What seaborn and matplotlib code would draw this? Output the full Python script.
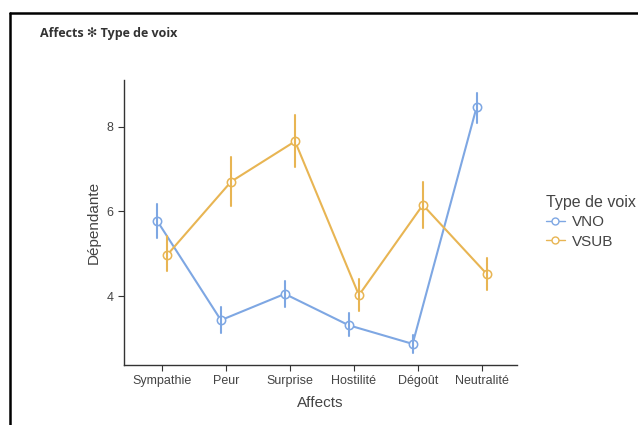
import numpy as np
import pandas as pd
import matplotlib
matplotlib.use("Agg")
import matplotlib.pyplot as plt
import seaborn as sns
from matplotlib.lines import Line2D

sns.set_style("ticks")
plt.rcParams['font.family'] = ['Liberation Sans', 'DejaVu Sans']

# data: mean and interval bounds
affects = ["Sympathie", "Peur", "Surprise", "Hostilité", "Dégoût", "Neutralité"]
groups = ["VNO", "VSUB"]
vno_mean = [5.78, 3.43, 4.05, 3.31, 2.87, 8.45]
vno_lo = [5.38, 3.13, 3.73, 3.05, 2.65, 8.08]
vno_hi = [6.17, 3.73, 4.36, 3.60, 3.07, 8.80]
vsub_mean = [4.97, 6.70, 7.65, 4.02, 6.15, 4.52]
vsub_lo = [4.58, 6.13, 7.05, 3.65, 5.60, 4.15]
vsub_hi = [5.41, 7.28, 8.26, 4.39, 6.68, 4.90]

colors = ["#7EA7E3", "#E8B553"]

# long table: lo / mean / hi per cell, median + 100% interval gives mean and bounds
rows = []
for g, m, lo, hi in [("VNO", vno_mean, vno_lo, vno_hi), ("VSUB", vsub_mean, vsub_lo, vsub_hi)]:
    for a, mm, l, h in zip(affects, m, lo, hi):
        for v in (l, mm, h):
            rows.append({"Affects": a, "Type de voix": g, "val": v})
df = pd.DataFrame(rows)

fig = plt.figure(figsize=(6.38, 4.25), dpi=100)
ax = fig.add_axes([0.194, 0.141, 0.616, 0.671])

sns.pointplot(data=df, x="Affects", y="val", hue="Type de voix", order=affects,
              hue_order=groups, palette=colors, estimator="median",
              errorbar=("pi", 100), dodge=0.16, markers="o",
              markerfacecolor="white", markersize=6, linewidth=1.5,
              err_kws={"linewidth": 1.5}, ax=ax, legend=False)

ax.set_ylim(2.37, 9.1)
ax.set_xlim(-0.6, 5.55)
ax.set_yticks([4, 6, 8])
ax.set_xlabel("Affects", fontsize=11, color="#444444", labelpad=6)
ax.set_ylabel("Dépendante", fontsize=11, color="#444444")
ax.tick_params(labelsize=9, labelcolor="#444444", color="#333333", length=4)
for s in ["left", "bottom"]:
    ax.spines[s].set_color("#333333")
    ax.spines[s].set_linewidth(1)
sns.despine(ax=ax)

handles = [Line2D([], [], color=c, marker="o", markerfacecolor="white",
                  markersize=5, linewidth=1) for c in colors]
leg = ax.legend(handles, groups, title="Type de voix", frameon=False,
                loc="upper left", bbox_to_anchor=(1.036, 0.65), fontsize=11,
                title_fontsize=11.5, handlelength=1.2, handletextpad=0.5,
                labelspacing=0.35, borderaxespad=0.6)
leg.get_title().set_color("#444444")
leg._legend_box.align = "left"
for t in leg.get_texts():
    t.set_color("#444444")

fig.text(0.063, 0.922, "Affects \u273b Type de voix", fontsize=9,
         fontweight="bold", color="#333333", va="center",
         family=["Open Sans", "DejaVu Sans"])

# outer frame
fig.add_artist(Line2D([0.0157, 1.0], [0.969, 0.969], color="black", linewidth=1.8))
fig.add_artist(Line2D([0.0157, 0.0157], [0.0, 0.969], color="black", linewidth=1.8))

fig.savefig("out.png", dpi=100)
